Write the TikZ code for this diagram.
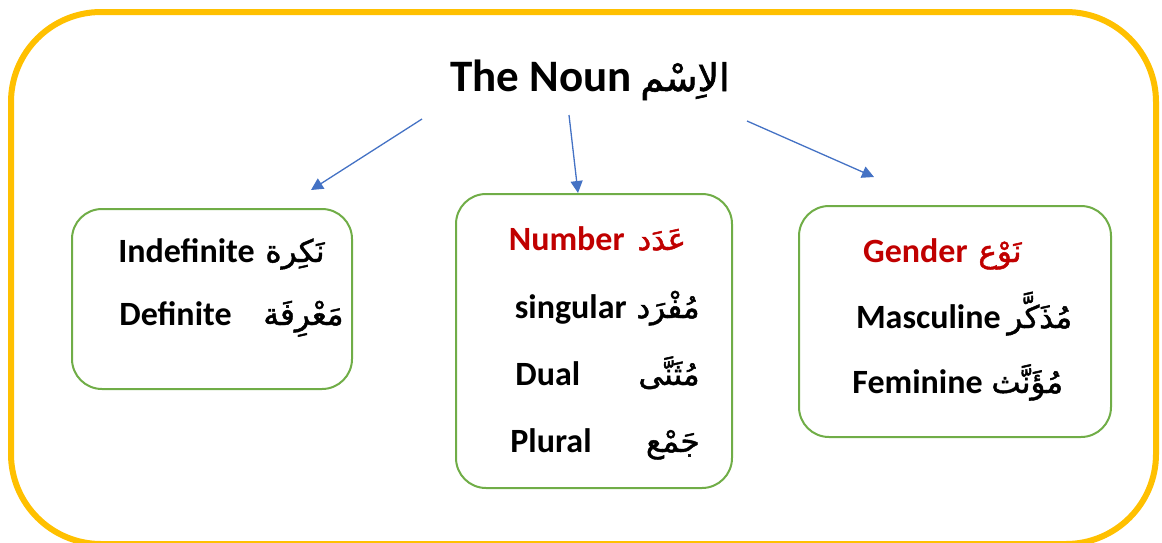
\documentclass[tikz,border=0pt]{standalone}
\usepackage{fontspec}
\setmainfont{Carlito}
\newfontfamily\arabicfont[Script=Arabic,FakeBold=1.5]{DejaVu Sans}
\TeXXeTstate=1
\usetikzlibrary{arrows.meta}
\definecolor{framegold}{HTML}{FFC000}
\definecolor{boxgreen}{HTML}{70AD47}
\definecolor{arrowblue}{HTML}{4472C4}
\definecolor{headred}{HTML}{C00000}
\newcommand{\ar}[1]{{\arabicfont\beginR #1\endR}}
\tikzset{
  catbox/.style={draw=boxgreen, line width=1pt, rounded corners=15pt},
  word/.style={font=\fontsize{17}{20}\selectfont\bfseries, inner sep=0pt},
  arword/.style={font=\fontsize{15.5}{19}\selectfont, inner sep=0pt},
  head/.style={word, text=headred},
  arhead/.style={arword, text=headred},
  link/.style={draw=arrowblue, line width=0.65pt, -{Triangle[length=6pt,width=6pt]}}
}
\begin{document}
\begin{tikzpicture}[x=0.5pt,y=-0.5pt]
        \useasboundingbox (0,0) rectangle (1162,542);
        \draw[framegold, line width=3pt, rounded corners=45pt] (11,12) rectangle (1156,544);

        % title
        \node[word, font=\fontsize{22.5}{27}\selectfont\bfseries, anchor=base east] (noun) at (632,91) {The Noun};
        \node[arword, font=\fontsize{19}{23}\selectfont, anchor=base west] (ism) at (640,91) {\ar{الاِسْم}};

        % boxes
        \draw[catbox] (72,209) rectangle (352,389);
        \draw[catbox] (456,194) rectangle (732,488);
        \draw[catbox] (799,206) rectangle (1111,437);

        % definiteness
        \node[word, anchor=base east] (indef) at (255,262) {Indefinite};
        \node[arword, anchor=base west] (nakira) at (265,262) {\ar{نَكِرة}};
        \node[word, anchor=base east] (def) at (232,325) {Definite};
        \node[arword, anchor=base west] (marifa) at (263,325) {\ar{مَعْرِفَة}};

        % number
        \node[head, anchor=base east] (number) at (625,250) {Number};
        \node[arhead, anchor=base west] (adad) at (637,250) {\ar{عَدَد}};
        \node[word, anchor=base east] (sing) at (627,318) {singular};
        \node[arword, anchor=base east] (mufrad) at (700,318) {\ar{مُفْرَد}};
        \node[word, anchor=base west] (dual) at (515,385) {Dual};
        \node[arword, anchor=base east] (muthanna) at (700,385) {\ar{مُثَنَّى}};
        \node[word, anchor=base west] (plural) at (510,452) {Plural};
        \node[arword, anchor=base east] (jam) at (700,452) {\ar{جَمْع}};

        % gender
        \node[head, anchor=base east] (gender) at (968,262) {Gender};
        \node[arhead, anchor=base west] (naw) at (978,262) {\ar{نَوْع}};
        \node[word, anchor=base east] (masc) at (1001,328) {Masculine};
        \node[arword, anchor=base west] (mudhakkar) at (1007,328) {\ar{مُذَكَّر}};
        \node[word, anchor=base east] (fem) at (983,393) {Feminine};
        \node[arword, anchor=base west] (muannath) at (991,393) {\ar{مُؤَنَّث}};

        % arrows
        \coordinate (l0) at (422,119);
        \coordinate (l1) at (311,190);
        \coordinate (m0) at (569,115);
        \coordinate (m1) at (578,193);
        \coordinate (r0) at (747,121);
        \coordinate (r1) at (874,177);
        \draw[link] (l0) -- (l1);
        \draw[link] (m0) -- (m1);
        \draw[link] (r0) -- (r1);
      \end{tikzpicture}
\end{document}
